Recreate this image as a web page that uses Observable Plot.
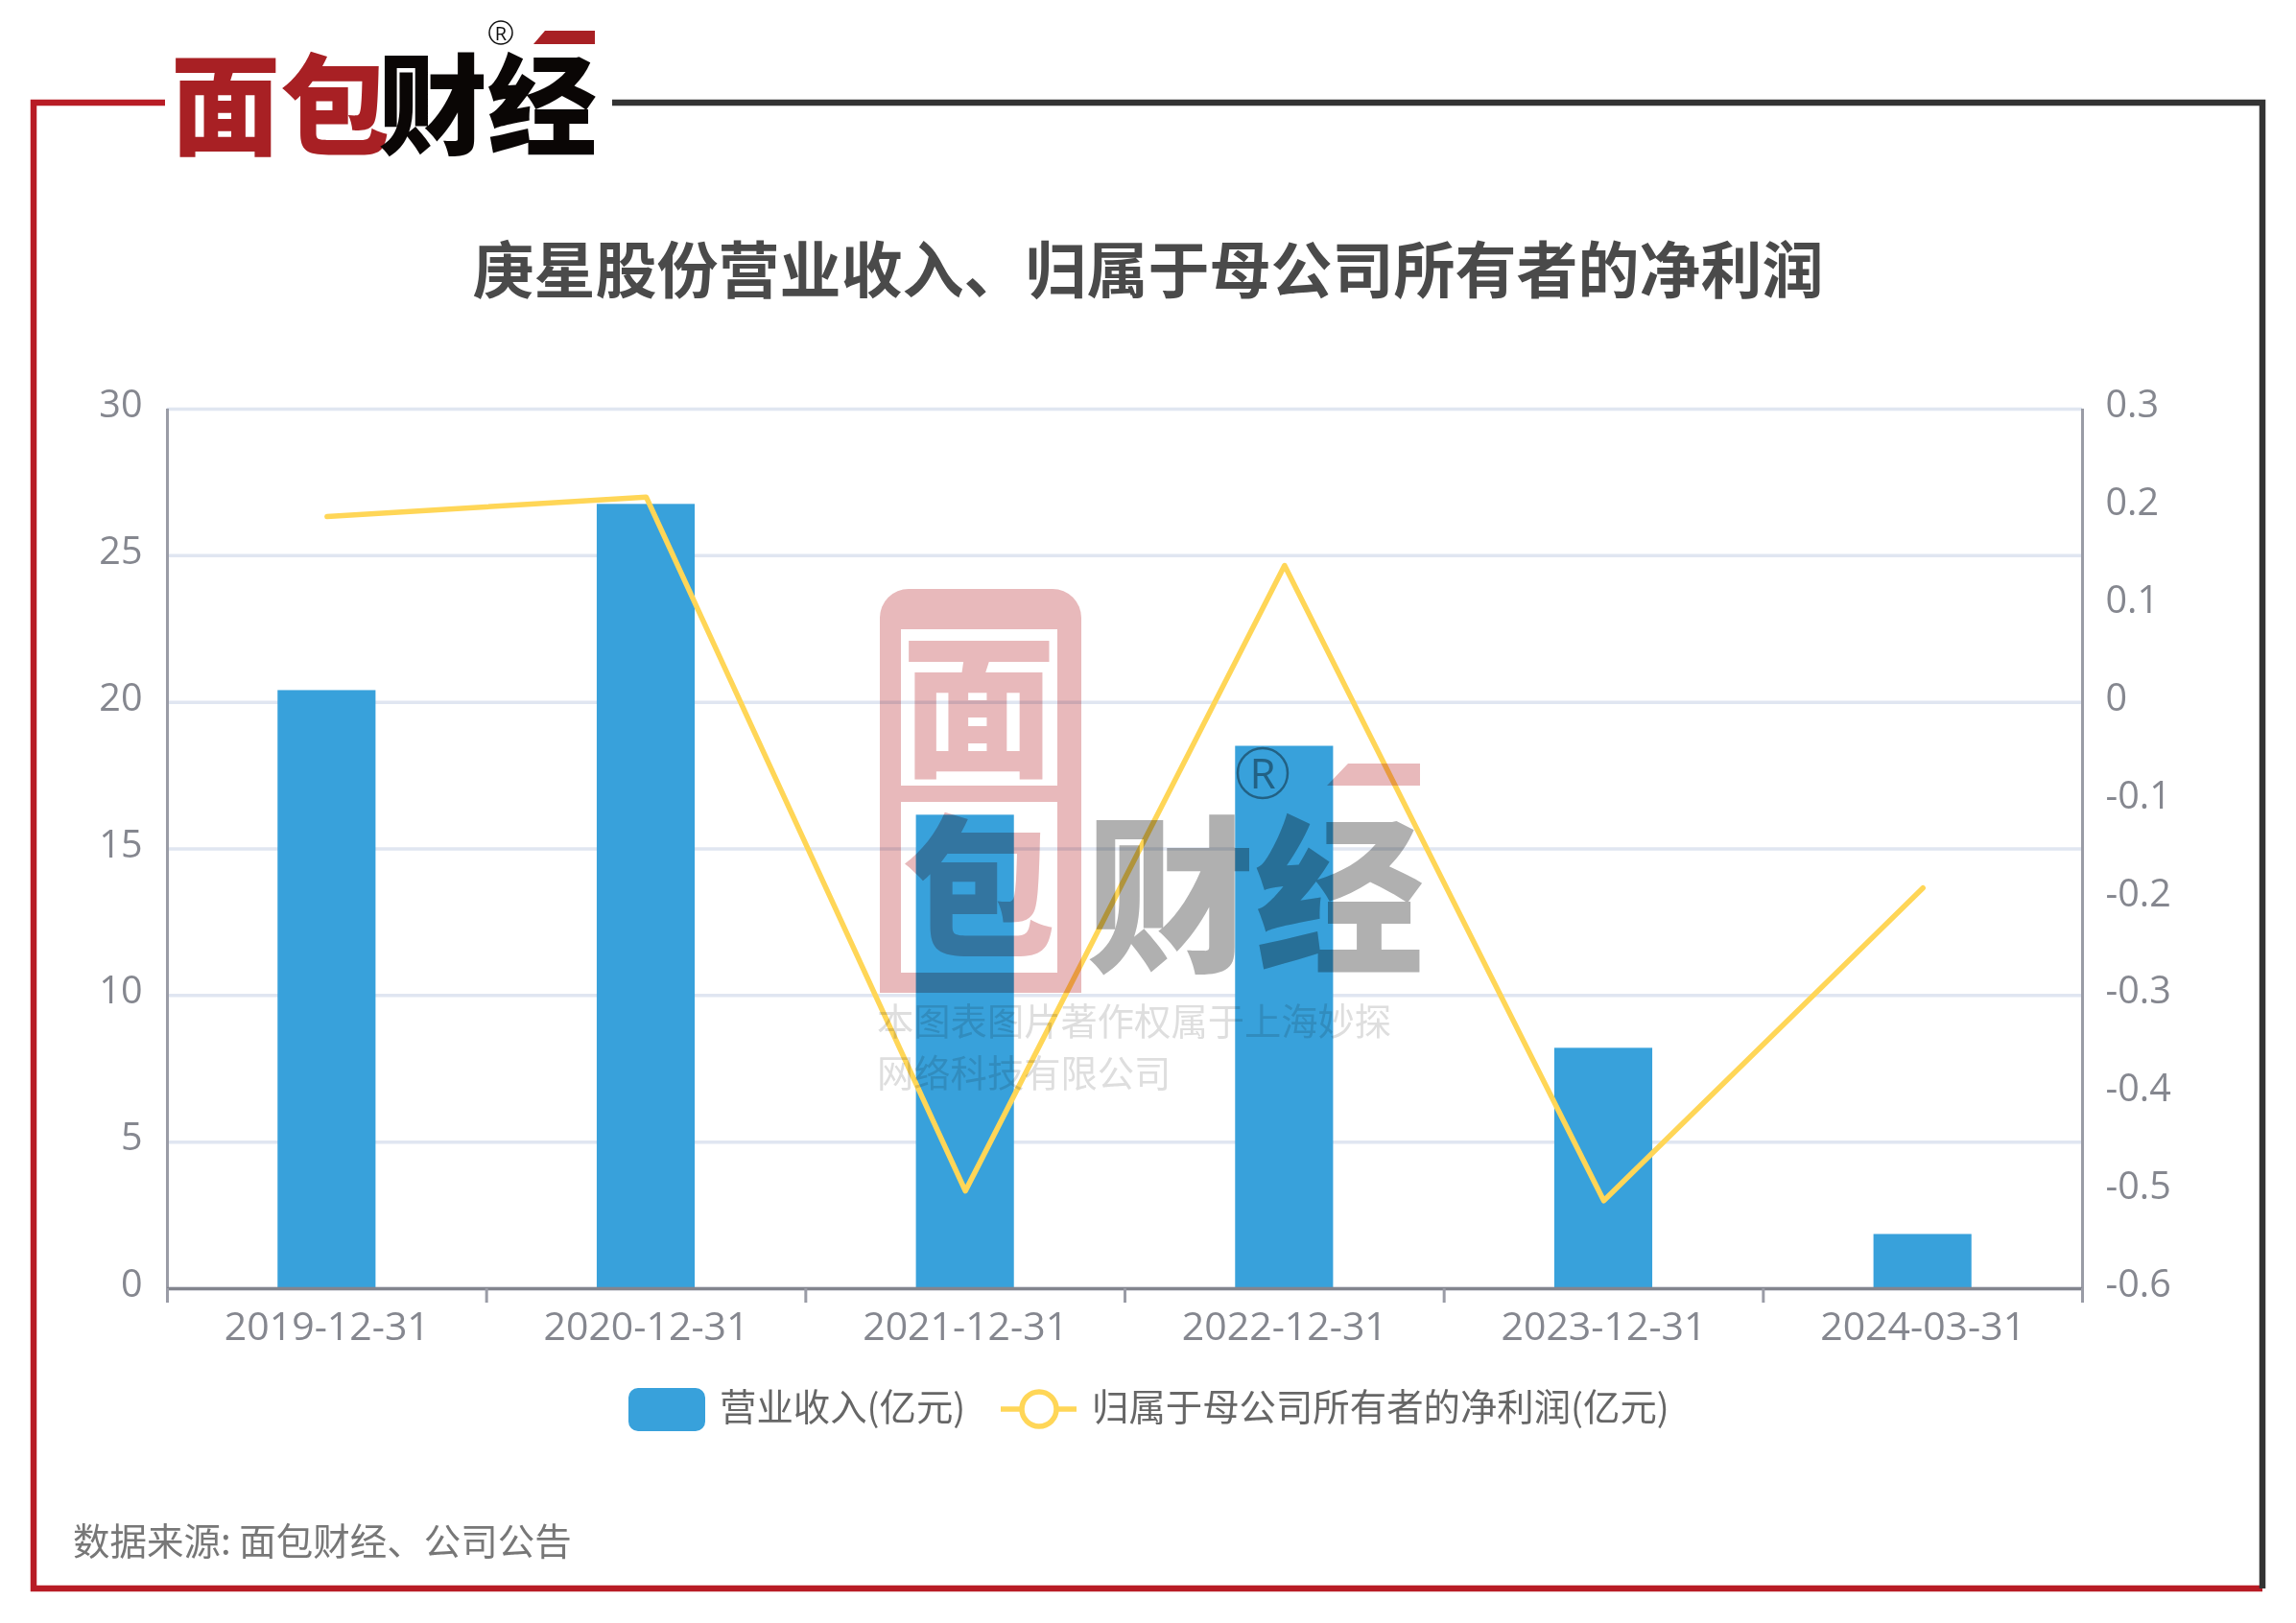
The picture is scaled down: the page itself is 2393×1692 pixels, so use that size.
<!DOCTYPE html>
<html lang="zh">
<head>
<meta charset="utf-8">
<script src="https://cdn.jsdelivr.net/npm/d3@7"></script>
<script src="https://cdn.jsdelivr.net/npm/@observablehq/plot@0.6"></script>
<style>
  html,body{margin:0;background:#fff}
  #page{position:relative;width:2393px;height:1692px;overflow:hidden;background:#fff;font-family:"Noto Sans CJK SC","Open Sans",sans-serif}
  #page>svg,#chart svg{position:absolute;left:0;top:0}
  .abs{position:absolute;white-space:nowrap}
  #title{left:0;width:2393px;top:235px;text-align:center;font-size:64px;line-height:84px;font-weight:700;color:#4a4a4a}
  #caption{left:76px;top:1578px;font-size:38.5px;line-height:52px;color:#777}
  .leg{font-size:38.4px;line-height:52px;color:#666;top:1438px}
  #swatchBar{left:655px;top:1447px;width:80px;height:45px;background:#38A1DB;border-radius:10px}
</style>
</head>
<body>
<div id="page">
  <div id="chart"></div>
  <div class="abs" id="title">庚星股份营业收入、归属于母公司所有者的净利润</div>
  <div class="abs" id="swatchBar"></div>
  <div class="abs leg" id="leg1" style="left:750px">营业收入(亿元)</div>
  <svg width="2393" height="1692" style="pointer-events:none">
    <line x1="1043" x2="1122" y1="1469" y2="1469" stroke="#FFD657" stroke-width="5.5"/>
    <circle cx="1083" cy="1469" r="18" fill="#fff" stroke="#FFD657" stroke-width="5.5"/>
  </svg>
  <div class="abs leg" id="leg2" style="left:1138px">归属于母公司所有者的净利润(亿元)</div>
  <div class="abs" id="caption">数据来源: 面包财经、公司公告</div>

  <!-- frame and logo -->
  <svg width="2393" height="1692" font-family="'Noto Sans CJK SC',sans-serif">
    <path d="M172 107H35V1656H2358" fill="none" stroke="#B81C25" stroke-width="6.5"/>
    <path d="M638 107H2358V1656" fill="none" stroke="#333" stroke-width="6.5"/>
    <text x="178" y="152" font-size="114" font-weight="900" fill="#A82024">面包</text>
    <text x="394" y="152" font-size="114" font-weight="900" fill="#0a0605">财经</text>
    <path d="M568 32H620V46H556Z" fill="#A82024"/>
    <circle cx="522" cy="34" r="12" fill="none" stroke="#111" stroke-width="1.5"/>
    <text x="522" y="42" text-anchor="middle" font-size="20" font-family="'Open Sans',sans-serif" fill="#111">R</text>
  </svg>

  <!-- watermark, printed over the chart -->
  <svg width="2393" height="1692" style="mix-blend-mode:multiply;pointer-events:none" font-family="'Noto Sans CJK SC',sans-serif">
    <path d="M947 614H1097A30 30 0 0 1 1127 644V1035H917V644A30 30 0 0 1 947 614Z" fill="#E8B9BB"/>
    <rect x="939" y="656" width="163" height="163" fill="#fff"/>
    <rect x="939" y="836" width="163" height="178" fill="#fff"/>
    <text x="1020" y="797" text-anchor="middle" font-size="160" font-weight="900" fill="#E8B9BB">面</text>
    <text x="1020" y="985" text-anchor="middle" font-size="160" font-weight="900" fill="#E8B9BB">包</text>
    <text x="1132" y="1000" font-size="176" font-weight="900" fill="#B0B0B0">财经</text>
    <path d="M1405 796H1480V819H1383Z" fill="#E8B9BB"/>
    <circle cx="1316" cy="806" r="26" fill="none" stroke="#9a9a9a" stroke-width="2.5"/>
    <text x="1316" y="822" text-anchor="middle" font-size="44" font-family="'Open Sans',sans-serif" fill="#9a9a9a">R</text>
    <text x="914" y="1079" font-size="38.3" fill="#DEDEDE">本图表图片著作权属于上海妙探</text>
    <text x="914" y="1133" font-size="38.3" fill="#DEDEDE">网络科技有限公司</text>
  </svg>
</div>
<script>
const categories = ["2019-12-31","2020-12-31","2021-12-31","2022-12-31","2023-12-31","2024-03-31"];
const revenue = [20.4, 26.75, 16.15, 18.5, 8.2, 1.85];
const netProfit = [0.19, 0.21, -0.5, 0.14, -0.51, -0.19];
const leftTicks = [0, 5, 10, 15, 20, 25, 30];
const rightTicks = [-0.6, -0.5, -0.4, -0.3, -0.2, -0.1, 0, 0.1, 0.2, 0.3];

const barShare = 0.307;               // bar width as a share of its category slot
const toLeft = d3.scaleLinear([-0.6, 0.3], [0, 30]);  // right axis -> left axis
const rows = categories.map((c, i) => ({c, i, mid: i + 0.5, revenue: revenue[i], profit: toLeft(netProfit[i])}));

const gray = "#85878F";
const axisLine = "#9A9CA6";
const numFont = {fontFamily: "'Open Sans',sans-serif", fontSize: 39};

const svg = Plot.plot({
  width: 2393, height: 1692,
  marginLeft: 174, marginRight: 223, marginTop: 426, marginBottom: 349,
  style: {background: "transparent", ...numFont},
  x: {domain: [0, 6], label: null},
  y: {domain: [0, 30], label: null},
  marks: [
    Plot.ruleY(leftTicks, {stroke: "#E0E6F1", strokeWidth: 3.5}),
    Plot.rectY(rows, {
      x1: d => d.mid - barShare / 2, x2: d => d.mid + barShare / 2,
      y1: 0, y2: "revenue", fill: "#38A1DB"
    }),
    Plot.ruleX([0, 6], {stroke: axisLine, strokeWidth: 3}),
    Plot.ruleY([0], {stroke: "#83858E", strokeWidth: 3.5}),
    Plot.axisX({ticks: d3.range(0, 7), tickSize: 15, tickFormat: () => "", stroke: axisLine, strokeWidth: 3, label: null}),
    Plot.axisX({
      ticks: rows.map(d => d.mid), tickSize: 0, tickPadding: 24,
      tickFormat: v => categories[v - 0.5], fill: gray, label: null, fontSize: 41
    }),
    Plot.axisY({
      ticks: leftTicks, tickSize: 0, tickPadding: 26, dy: -4,
      fill: gray, label: null, fontSize: 39.5
    }),
    Plot.axisY({
      anchor: "right", ticks: rightTicks.map(toLeft), tickSize: 0, tickPadding: 24, dy: -4,
      tickFormat: v => d3.format(".1~f")(toLeft.invert(v)).replace("−", "-"),
      fill: gray, label: null, fontSize: 39.5
    }),
    Plot.line(rows, {x: "mid", y: "profit", stroke: "#FFD657", strokeWidth: 5.5})
  ]
});
document.getElementById("chart").append(svg);
</script>
</body>
</html>
